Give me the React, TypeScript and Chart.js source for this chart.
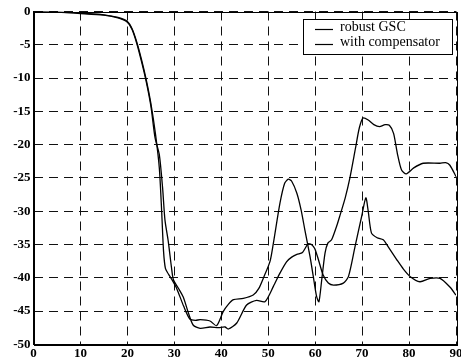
import React, { useEffect, useRef } from "react";
import { Chart, registerables } from "chart.js";

Chart.register(...registerables);

// x-axis: 0..90 step 10, y-axis: -50..0 step 5
const xTickValues = [0, 10, 20, 30, 40, 50, 60, 70, 80, 90];
const yTickValues = [0, -5, -10, -15, -20, -25, -30, -35, -40, -45, -50];

const seriesNames = ["robust GSC", "with compensator"];

const gscX = [0, 5, 10, 15, 18, 20, 21, 22, 23, 24, 25, 26, 26.8, 27.3, 27.7, 28.1, 28.7, 29.5, 30.5, 32, 33.3, 34.5, 35.5, 37.6, 39, 40.4, 41.5, 42.6, 44.7, 46.8, 48, 49, 50.4, 51.1, 52.5, 53.5, 54.3, 55, 56.1, 57, 57.8, 58.9, 59.6, 60.3, 60.8, 61.4, 62.1, 62.7, 63.5, 64.6, 65.3, 66.4, 67.4, 68.6, 69.4, 70.2, 71.3, 72.5, 73.7, 74.9, 75.8, 76.7, 77.5, 78.4, 79.4, 81, 83, 86.6, 87.8, 88.7, 90];
const gscY = [0, -0.1, -0.25, -0.5, -0.9, -1.5, -2.6, -4.6, -7.2, -10.2, -13.8, -18.5, -23.5, -30, -36, -38.6, -39.4, -40.3, -41.6, -44.3, -46.2, -46.4, -46.3, -46.5, -47.2, -45.1, -44, -43.3, -43.1, -42.6, -41.6, -40, -37.5, -34.8, -28.8, -25.8, -25.2, -25.5, -27.3, -29.8, -32.8, -36.8, -39.8, -42.8, -43.6, -40.3, -36.3, -34.8, -34.3, -32.2, -30.6, -28, -25, -20.5, -17.5, -16.0, -16.3, -17, -17.3, -17.0, -17.1, -18.3, -21.3, -23.8, -24.4, -23.5, -22.8, -22.8, -22.7, -23.1, -24.8];

const compX = [0, 5, 10, 15, 18, 20, 21, 22, 23, 24, 25, 25.9, 26.8, 27.5, 28, 28.7, 29.4, 29.8, 30.8, 31.9, 33, 34, 35.5, 37.6, 39.4, 40.8, 41.5, 43.3, 45.4, 47.5, 49.3, 51.1, 52.5, 53.9, 55, 56.1, 57.3, 58.5, 59.2, 59.9, 60.7, 61.7, 62.8, 63.9, 66, 67.1, 68.5, 69.9, 70.8, 71.3, 72, 73.2, 74.5, 75.5, 77.4, 78.8, 80.2, 82.3, 84.5, 86.6, 88.7, 90];
const compY = [0, -0.1, -0.3, -0.55, -0.95, -1.6, -2.7, -4.8, -7.5, -10.5, -14.2, -19, -21.5, -26.5, -31.3, -34.5, -38.5, -40.3, -41.5, -42.9, -45.3, -47.1, -47.6, -47.4, -47.5, -47.4, -47.7, -46.8, -44.1, -43.4, -43.6, -41.3, -39.3, -37.6, -36.9, -36.5, -36.2, -34.9, -35, -35.6, -37.3, -39.6, -40.8, -41.1, -40.8, -39.8, -35.3, -30.8, -28.0, -30, -33.3, -34, -34.3, -35.3, -37.3, -38.7, -39.8, -40.6, -40.1, -40.1, -41.4, -42.6];

const toPoints = (xs: number[], ys: number[]) => xs.map((x, i) => ({ x, y: ys[i] }));

export default function App() {
  const ref = useRef<HTMLCanvasElement>(null);

  useEffect(() => {
    document.body.style.margin = "0";
    const canvas = ref.current;
    if (!canvas) return;

    const framePlugin = {
      id: "frameAndLegend",
      afterDraw(chart: any) {
        const { ctx, chartArea } = chart;
        ctx.save();
        ctx.setLineDash([]);
        ctx.strokeStyle = "#000";
        ctx.lineWidth = 1;
        ctx.strokeRect(
          Math.round(chartArea.left) + 0.5,
          Math.round(chartArea.top) + 0.5,
          Math.round(chartArea.right - chartArea.left),
          Math.round(chartArea.bottom - chartArea.top)
        );
        // legend box
        const bw = 149;
        const bh = 35;
        const bx = Math.round(chartArea.right) - 4 - bw;
        const by = Math.round(chartArea.top) + 7;
        ctx.fillStyle = "#fff";
        ctx.fillRect(bx, by, bw, bh);
        ctx.strokeRect(bx + 0.5, by + 0.5, bw, bh);
        ctx.font = "14px 'Liberation Serif', serif";
        ctx.fillStyle = "#000";
        ctx.textBaseline = "alphabetic";
        ctx.textAlign = "left";
        seriesNames.forEach((name, i) => {
          const ly = by + 10.5 + i * 15;
          ctx.lineWidth = 1.2;
          ctx.beginPath();
          ctx.moveTo(bx + 12, ly);
          ctx.lineTo(bx + 30, ly);
          ctx.stroke();
          ctx.fillText(name, bx + 37, ly + 1.5);
        });
        ctx.restore();
      },
    };

    const tickFont = { family: "'Liberation Serif', serif", size: 13, weight: "bold" as const };

    const chart = new Chart(canvas, {
      type: "line",
      data: {
        datasets: [
          {
            label: seriesNames[0],
            data: toPoints(gscX, gscY),
            borderColor: "#000",
            borderWidth: 1.3,
            pointRadius: 0,
            fill: false,
            tension: 0.25,
          },
          {
            label: seriesNames[1],
            data: toPoints(compX, compY),
            borderColor: "#000",
            borderWidth: 1.3,
            pointRadius: 0,
            fill: false,
            tension: 0.25,
          },
        ],
      },
      options: {
        responsive: false,
        animation: false,
        events: [],
        layout: { padding: { left: 0, right: 5, top: 11.5, bottom: 0 } },
        plugins: {
          legend: { display: false },
          tooltip: { enabled: false },
          title: { display: false },
        },
        scales: {
          x: {
            type: "linear",
            min: 0,
            max: 90,
            afterBuildTicks: (scale: any) => {
              scale.ticks = xTickValues.map((v) => ({ value: v }));
            },
            afterFit: (scale: any) => {
              scale.height = 15.7;
              scale.paddingLeft = 0;
              scale.paddingRight = 0;
            },
            ticks: {
              color: "#000",
              font: tickFont,
              padding: 2,
              maxRotation: 0,
              autoSkip: false,
            },
            grid: {
              color: "#111",
              lineWidth: 1,
              drawTicks: false,
            },
            border: { display: true, color: "#000", dash: [9, 6] },
          },
          y: {
            type: "linear",
            min: -50,
            max: 0,
            afterBuildTicks: (scale: any) => {
              scale.ticks = yTickValues.map((v) => ({ value: v }));
            },
            afterFit: (scale: any) => {
              scale.width = 33.5;
              scale.paddingTop = 0;
              scale.paddingBottom = 0;
            },
            ticks: {
              color: "#000",
              font: tickFont,
              padding: 3,
              autoSkip: false,
            },
            grid: {
              color: "#111",
              lineWidth: 1,
              drawTicks: false,
            },
            border: { display: true, color: "#000", dash: [9, 6] },
          },
        },
      },
      plugins: [framePlugin],
    });

    return () => chart.destroy();
  }, []);

  return (
    <div style={{ position: "fixed", left: 0, top: 0, width: 461, height: 360, background: "#fff" }}>
      <canvas ref={ref} width={461} height={360} style={{ width: 461, height: 360, display: "block" }} />
    </div>
  );
}
